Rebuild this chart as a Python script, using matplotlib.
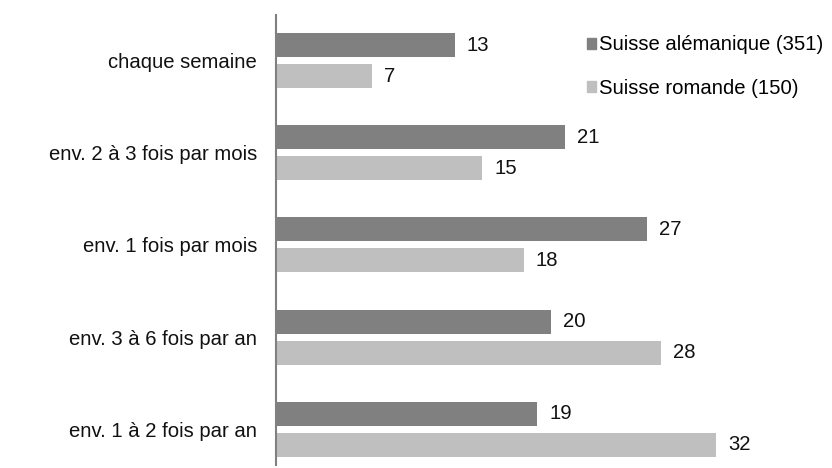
import matplotlib
matplotlib.use("Agg")
import matplotlib.pyplot as plt
from matplotlib.patches import Patch
import numpy as np

categories = ["chaque semaine", "env. 2 à 3 fois par mois", "env. 1 fois par mois",
              "env. 3 à 6 fois par an", "env. 1 à 2 fois par an"]
alemanique = [13, 21, 27, 20, 19]
romande = [7, 15, 18, 28, 32]
series_names = ["Suisse alémanique (351)", "Suisse romande (150)"]

dark = "#808080"
light = "#BFBFBF"

plt.rcParams['font.family'] = ['Liberation Sans', 'DejaVu Sans']
fs = 14.6

fig = plt.figure(figsize=(8.32, 4.68), dpi=100)
ax_left = 276 / 832
ax_bottom = 3 / 468
ax_height = (465 - 14.5) / 468
ax = fig.add_axes([ax_left, ax_bottom, 826 / 832 - ax_left, ax_height])

y = np.arange(len(categories))
h = 0.26
off = 0.168
ax.barh(y - off, alemanique, height=h, color=dark)
ax.barh(y + off, romande, height=h, color=light)

xmax = 40
ax.set_xlim(0, xmax)
ax.set_ylim(4.387, -0.5)

for yi, v in zip(y - off, alemanique):
    ax.text(v + 0.87, yi, str(v), va="center", ha="left", fontsize=fs, color="#111111")
for yi, v in zip(y + off, romande):
    ax.text(v + 0.87, yi, str(v), va="center", ha="left", fontsize=fs, color="#111111")

ax.set_yticks(y)
ax.set_yticklabels(categories, fontsize=fs, color="#111111")
ax.tick_params(axis="y", length=0, pad=13.5)
ax.set_xticks([])
for s in ["top", "right", "bottom"]:
    ax.spines[s].set_visible(False)
ax.spines["left"].set_color("#808080")
ax.spines["left"].set_linewidth(1.5)

handles = [Patch(color=dark), Patch(color=light)]
ax.legend(handles, series_names, loc="upper left", bbox_to_anchor=((579 - 276) / 550, 0.9716),
          frameon=False, fontsize=fs, handlelength=0.45, handleheight=0.45,
          handletextpad=0.15, labelspacing=1.2, borderaxespad=0)

fig.savefig("out.png", dpi=100)
